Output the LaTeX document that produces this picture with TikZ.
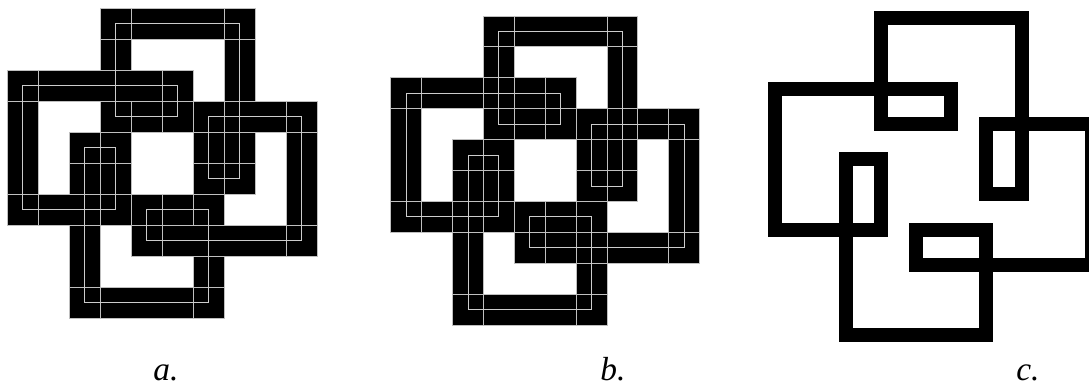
\documentclass[tikz,border=0pt]{standalone}
\usepackage{fontspec}
\setmainfont{Liberation Serif}
\usetikzlibrary{positioning}

\newcommand{\knotline}{(3.5,0.5) -- (7.5,0.5) -- (7.5,5.5) -- (6.5,5.5) -- (6.5,3.5) -- (9.5,3.5) -- (9.5,7.5) -- (4.5,7.5) -- (4.5,6.5) -- (6.5,6.5) -- (6.5,9.5) -- (2.5,9.5) -- (2.5,4.5) -- (3.5,4.5) -- (3.5,6.5) -- (0.5,6.5) -- (0.5,2.5) -- (5.5,2.5) -- (5.5,3.5) -- (3.5,3.5) -- cycle}

\begin{document}
\begin{tikzpicture}[x=0.2mm, y=-0.2mm,
    band/.style={draw=black, line width=#1, line join=miter},
    tile/.style={draw=black!25, line width=0.5pt},
    over/.style={fill=black, draw=black!25, line width=0.5pt},
    mid/.style={draw=black!20, line width=0.5pt},
    lbl/.style={font=\itshape\fontsize{19}{19}\selectfont, inner sep=0pt, anchor=base}
]
\useasboundingbox (0,0) rectangle (1089,387);
\clip (0,0) rectangle (1089,387);

\begin{scope}[shift={(7.3,8.3)}, scale=31]
\draw[band=6.2mm] \knotline;
\draw[tile] (7,1) rectangle (8,5);
\draw[tile] (6,4) rectangle (7,5);
\draw[tile] (9,4) rectangle (10,7);
\draw[tile] (6,7) rectangle (7,9);
\draw[tile] (2,5) rectangle (3,9);
\draw[tile] (3,5) rectangle (4,6);
\draw[tile] (0,3) rectangle (1,6);
\draw[tile] (3,1) rectangle (4,3);
\draw[over] (4,0) rectangle (7,1);
\draw[over] (7,3) rectangle (9,4);
\draw[over] (5,7) rectangle (9,8);
\draw[over] (5,6) rectangle (6,7);
\draw[over] (3,9) rectangle (6,10);
\draw[over] (1,6) rectangle (3,7);
\draw[over] (1,2) rectangle (5,3);
\draw[over] (4,3) rectangle (5,4);
\draw[tile] (3,0) rectangle +(1,1);
\draw[tile] (7,0) rectangle +(1,1);
\draw[tile] (7,5) rectangle +(1,1);
\draw[tile] (6,5) rectangle +(1,1);
\draw[tile] (6,3) rectangle +(1,1);
\draw[tile] (9,3) rectangle +(1,1);
\draw[tile] (9,7) rectangle +(1,1);
\draw[tile] (4,7) rectangle +(1,1);
\draw[tile] (4,6) rectangle +(1,1);
\draw[tile] (6,6) rectangle +(1,1);
\draw[tile] (6,9) rectangle +(1,1);
\draw[tile] (2,9) rectangle +(1,1);
\draw[tile] (2,4) rectangle +(1,1);
\draw[tile] (3,4) rectangle +(1,1);
\draw[tile] (3,6) rectangle +(1,1);
\draw[tile] (0,6) rectangle +(1,1);
\draw[tile] (0,2) rectangle +(1,1);
\draw[tile] (5,2) rectangle +(1,1);
\draw[tile] (5,3) rectangle +(1,1);
\draw[tile] (3,3) rectangle +(1,1);
\draw[mid] \knotline;
\end{scope}

\begin{scope}[shift={(390.7,16)}, scale=30.9]
\draw[band=6.18mm] \knotline;
\draw[tile] (3,0) rectangle (8,1);
\draw[tile] (7,0) rectangle (8,6);
\draw[tile] (6,5) rectangle (8,6);
\draw[tile] (6,3) rectangle (7,6);
\draw[tile] (6,3) rectangle (10,4);
\draw[tile] (9,3) rectangle (10,8);
\draw[tile] (4,7) rectangle (10,8);
\draw[tile] (4,6) rectangle (5,8);
\draw[tile] (4,6) rectangle (7,7);
\draw[tile] (6,6) rectangle (7,10);
\draw[tile] (2,9) rectangle (7,10);
\draw[tile] (2,4) rectangle (3,10);
\draw[tile] (2,4) rectangle (4,5);
\draw[tile] (3,4) rectangle (4,7);
\draw[tile] (0,6) rectangle (4,7);
\draw[tile] (0,2) rectangle (1,7);
\draw[tile] (0,2) rectangle (6,3);
\draw[tile] (5,2) rectangle (6,4);
\draw[tile] (3,3) rectangle (6,4);
\draw[tile] (3,0) rectangle (4,4);
\draw[mid] \knotline;
\end{scope}

\begin{scope}[shift={(757.4,0.6)}, scale=35.24]
\draw[band=2.8mm] \knotline;
\end{scope}

\node[lbl] (capa) at (166,380) {a.};
\node[lbl] (capb) at (613,380) {b.};
\node[lbl] (capc) at (1028,380) {c.};
\end{tikzpicture}
\end{document}
